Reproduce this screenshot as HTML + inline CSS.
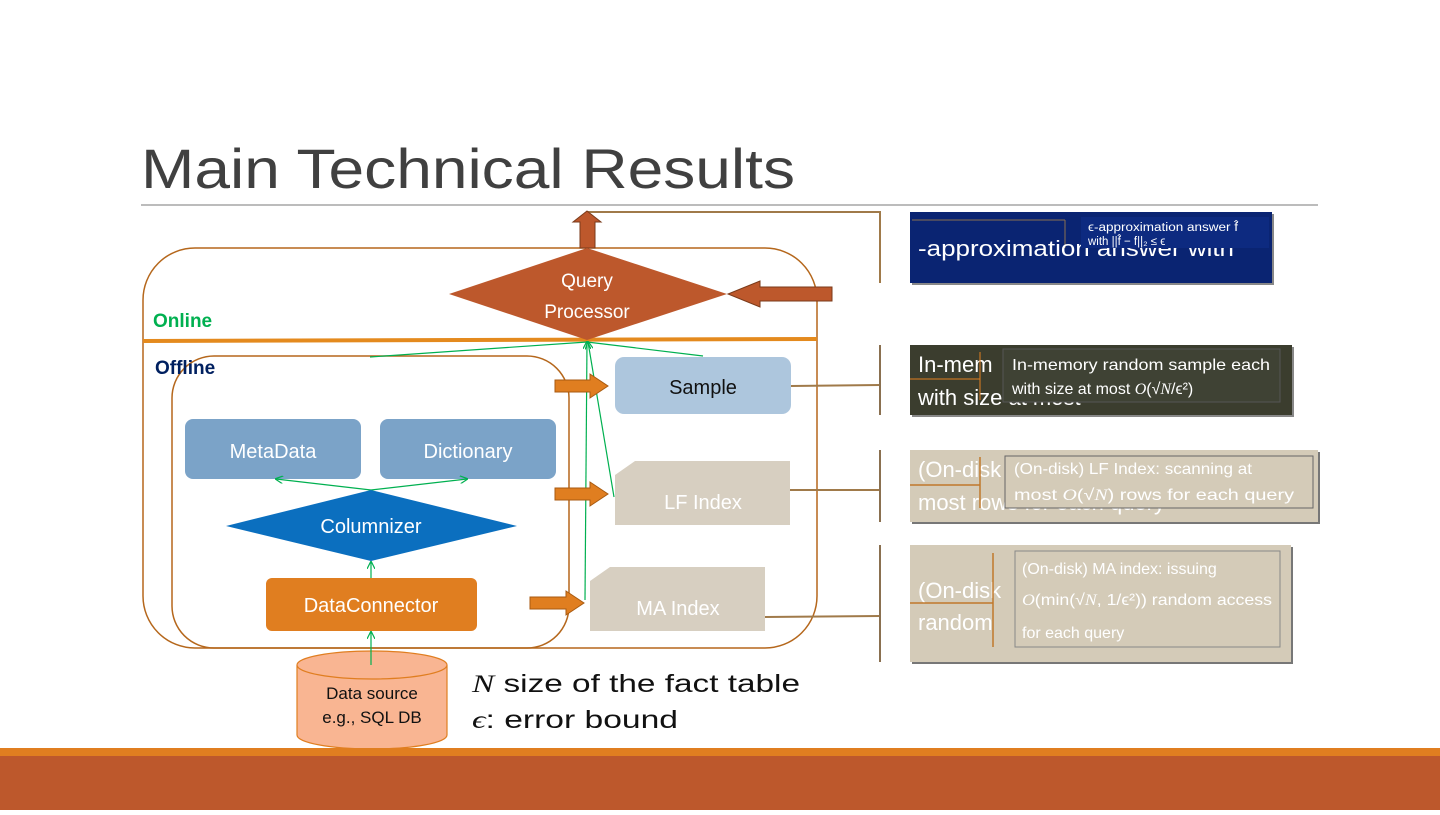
<!DOCTYPE html>
<html><head><meta charset="utf-8"><style>
body{margin:0;width:1440px;height:810px;overflow:hidden;background:#fff;font-family:"Liberation Sans",sans-serif}
svg text{font-family:"Liberation Sans",sans-serif}
</style></head><body>
<svg width="1440" height="810" xmlns="http://www.w3.org/2000/svg">
<defs>
<marker id="g" markerWidth="8" markerHeight="8" refX="7" refY="4" orient="auto" markerUnits="userSpaceOnUse"><path d="M0,0 L8,4 L0,8" fill="none" stroke="#00b050" stroke-width="1.2"/></marker>
</defs>
<text x="141" y="188" font-size="56" fill="#404040" textLength="654" lengthAdjust="spacingAndGlyphs">Main Technical Results</text>
<line x1="141" y1="205" x2="1318" y2="205" stroke="#a6a6a6" stroke-width="1.5"/>
<rect x="143" y="248" width="674" height="400" rx="52" fill="none" stroke="#b5671c" stroke-width="1.5"/>
<rect x="172" y="356" width="397" height="292" rx="42" fill="none" stroke="#b5671c" stroke-width="1.5"/>
<line x1="143" y1="341" x2="817" y2="339" stroke="#e48a1e" stroke-width="4"/>
<text x="153" y="327" font-size="19" font-weight="bold" fill="#00b050">Online</text>
<text x="155" y="374" font-size="19" font-weight="bold" fill="#002060">Offline</text>
<polyline points="587,212 880,212 880,283" fill="none" stroke="#a07a4a" stroke-width="2"/>
<polygon points="580,248 595,248 595,222 601,222 587,211 573,222 580,222" fill="#bd582c" stroke="#7a3a1a"/>
<polygon points="832,287 760,287 760,281 728,294 760,307 760,301 832,301" fill="#bd582c" stroke="#7a3a1a"/>
<polygon points="449,294 587,248 727,294 587,340" fill="#bd582c"/>
<text x="587" y="287" font-size="19" fill="#fff" text-anchor="middle">Query</text>
<text x="587" y="318" font-size="19" fill="#fff" text-anchor="middle">Processor</text>
<line x1="370" y1="357" x2="587" y2="342" stroke="#00b050" stroke-width="1.2"/>
<line x1="703" y1="356" x2="587" y2="342" stroke="#00b050" stroke-width="1.2"/>
<line x1="614" y1="497" x2="588" y2="342" stroke="#00b050" stroke-width="1.2" marker-end="url(#g)"/>
<line x1="585" y1="600" x2="587" y2="342" stroke="#00b050" stroke-width="1.2" marker-end="url(#g)"/>
<rect x="615" y="357" width="176" height="57" rx="9" fill="#adc6dd"/>
<text x="703" y="394" font-size="20" fill="#111" text-anchor="middle">Sample</text>
<polygon points="555,380 590,380 590,374 608,386 590,398 590,392 555,392" fill="#e07e20" stroke="#a85a10"/>
<polygon points="635,461 790,461 790,525 615,525 615,475" fill="#d7cfc1"/>
<text x="703" y="509" font-size="20" fill="#fff" text-anchor="middle">LF Index</text>
<polygon points="555,488 590,488 590,482 608,494 590,506 590,500 555,500" fill="#e07e20" stroke="#a85a10"/>
<polygon points="610,567 765,567 765,631 590,631 590,581" fill="#d7cfc1"/>
<text x="678" y="615" font-size="20" fill="#fff" text-anchor="middle">MA Index</text>
<polygon points="530,597 566,597 566,591 584,603 566,615 566,609 530,609" fill="#e07e20" stroke="#a85a10"/>
<rect x="185" y="419" width="176" height="60" rx="8" fill="#7ba3c8"/>
<text x="273" y="458" font-size="20" fill="#fff" text-anchor="middle">MetaData</text>
<rect x="380" y="419" width="176" height="60" rx="8" fill="#7ba3c8"/>
<text x="468" y="458" font-size="20" fill="#fff" text-anchor="middle">Dictionary</text>
<line x1="371" y1="490" x2="276" y2="479" stroke="#00b050" stroke-width="1.2" marker-end="url(#g)"/>
<line x1="371" y1="490" x2="467" y2="479" stroke="#00b050" stroke-width="1.2" marker-end="url(#g)"/>
<polygon points="226,526 371,490 517,526 371,561" fill="#0b6fbf"/>
<text x="371" y="533" font-size="20" fill="#fff" text-anchor="middle">Columnizer</text>
<line x1="371" y1="578" x2="371" y2="562" stroke="#00b050" stroke-width="1.2" marker-end="url(#g)"/>
<rect x="266" y="578" width="211" height="53" rx="6" fill="#e07e20"/>
<text x="371" y="612" font-size="20" fill="#fff" text-anchor="middle">DataConnector</text>
<path d="M297,665 L297,735 A75,14 0 0 0 447,735 L447,665" fill="#f9b592" stroke="#e07e20" stroke-width="1.2"/>
<ellipse cx="372" cy="665" rx="75" ry="14" fill="#f9b592" stroke="#e07e20" stroke-width="1.2"/>
<line x1="371" y1="665" x2="371" y2="632" stroke="#00b050" stroke-width="1.2" marker-end="url(#g)"/>
<text x="372" y="699" font-size="17" fill="#111" text-anchor="middle">Data source</text>
<text x="372" y="723" font-size="17" fill="#111" text-anchor="middle">e.g., SQL DB</text>
<text x="472" y="692" font-size="25" fill="#111" textLength="328" lengthAdjust="spacingAndGlyphs"><tspan font-style="italic" font-family="Liberation Serif">N</tspan> size of the fact table</text>
<text x="472" y="728" font-size="25" fill="#111" textLength="206" lengthAdjust="spacingAndGlyphs"><tspan font-style="italic" font-family="Liberation Serif">ϵ</tspan>: error bound</text>
<polyline points="791,386 880,385" fill="none" stroke="#a07a4a" stroke-width="2"/>
<line x1="880" y1="345" x2="880" y2="415" stroke="#8a7050" stroke-width="2"/>
<polyline points="790,490 880,490" fill="none" stroke="#a07a4a" stroke-width="2"/>
<line x1="880" y1="450" x2="880" y2="522" stroke="#8a7050" stroke-width="2"/>
<polyline points="765,617 880,616" fill="none" stroke="#a07a4a" stroke-width="2"/>
<line x1="880" y1="545" x2="880" y2="662" stroke="#8a7050" stroke-width="2"/>
<rect x="912" y="214" width="362" height="71" fill="#888"/>
<rect x="910" y="212" width="362" height="71" fill="#0a2472"/>
<line x1="912" y1="220" x2="1065" y2="220" stroke="#8a7050"/>
<line x1="1065" y1="220" x2="1065" y2="248" stroke="#8a7050"/>
<text x="918" y="256" font-size="22" fill="#fff" textLength="316" lengthAdjust="spacingAndGlyphs">-approximation answer  with</text>
<rect x="1081" y="217" width="188" height="31" fill="#0d2a80"/>
<text x="1088" y="231" font-size="11.5" fill="#fff" textLength="150" lengthAdjust="spacingAndGlyphs">ϵ-approximation answer f̂</text>
<text x="1088" y="245" font-size="11.5" fill="#fff">with ||f̂ − f||₂ ≤ ϵ</text>
<rect x="912" y="347" width="382" height="70" fill="#888"/>
<rect x="910" y="345" width="382" height="70" fill="#3b3d2e"/>
<text x="918" y="372" font-size="22" fill="#fff">In-mem</text>
<text x="918" y="405" font-size="22" fill="#fff">with size at most</text>
<rect x="1003" y="349" width="277" height="53" fill="#3f4234" stroke="#555"/>
<text x="1012" y="370" font-size="16" fill="#fff" textLength="258" lengthAdjust="spacingAndGlyphs">In-memory random sample each</text>
<text x="1012" y="394" font-size="16" fill="#fff">with size at most <tspan font-style="italic" font-family="Liberation Serif">O</tspan>(√<tspan font-style="italic" font-family="Liberation Serif">N</tspan>/ϵ²)</text>
<line x1="910" y1="379" x2="980" y2="379" stroke="#e07e20"/>
<line x1="980" y1="352" x2="980" y2="400" stroke="#e07e20"/>
<rect x="912" y="452" width="408" height="72" fill="#777"/>
<rect x="910" y="450" width="408" height="72" fill="#d4cbb8"/>
<text x="918" y="477" font-size="22" fill="#fff">(On-disk</text>
<text x="918" y="510" font-size="22" fill="#fff">most   rows for each query</text>
<rect x="1005" y="456" width="308" height="52" fill="#d4cbb8" stroke="#666"/>
<text x="1014" y="474" font-size="16" fill="#fff" textLength="238" lengthAdjust="spacingAndGlyphs">(On-disk) LF Index: scanning at</text>
<text x="1014" y="500" font-size="16" fill="#fff" textLength="280" lengthAdjust="spacingAndGlyphs">most  <tspan font-style="italic" font-family="Liberation Serif">O</tspan>(√<tspan font-style="italic" font-family="Liberation Serif">N</tspan>) rows for each query</text>
<line x1="910" y1="485" x2="980" y2="485" stroke="#c0782a" stroke-width="1.5"/>
<line x1="980" y1="457" x2="980" y2="508" stroke="#c0782a" stroke-width="1.5"/>
<rect x="912" y="547" width="381" height="117" fill="#777"/>
<rect x="910" y="545" width="381" height="117" fill="#d4cbb8"/>
<text x="918" y="598" font-size="22" fill="#fff">(On-disk</text>
<text x="918" y="630" font-size="22" fill="#fff">random</text>
<rect x="1015" y="551" width="265" height="96" fill="#d4cbb8" stroke="#888"/>
<text x="1022" y="574" font-size="16" fill="#fff">(On-disk) MA index: issuing</text>
<text x="1022" y="605" font-size="16" fill="#fff" textLength="250" lengthAdjust="spacingAndGlyphs"><tspan font-style="italic" font-family="Liberation Serif">O</tspan>(min(√<tspan font-style="italic" font-family="Liberation Serif">N</tspan>, 1/ϵ²)) random access</text>
<text x="1022" y="638" font-size="16" fill="#fff">for each query</text>
<line x1="910" y1="603" x2="993" y2="603" stroke="#c0782a" stroke-width="1.5"/>
<line x1="993" y1="553" x2="993" y2="647" stroke="#c0782a" stroke-width="1.5"/>
<rect x="0" y="748" width="1440" height="8" fill="#e07e20"/>
<rect x="0" y="756" width="1440" height="54" fill="#bd582c"/>
</svg>
</body></html>
